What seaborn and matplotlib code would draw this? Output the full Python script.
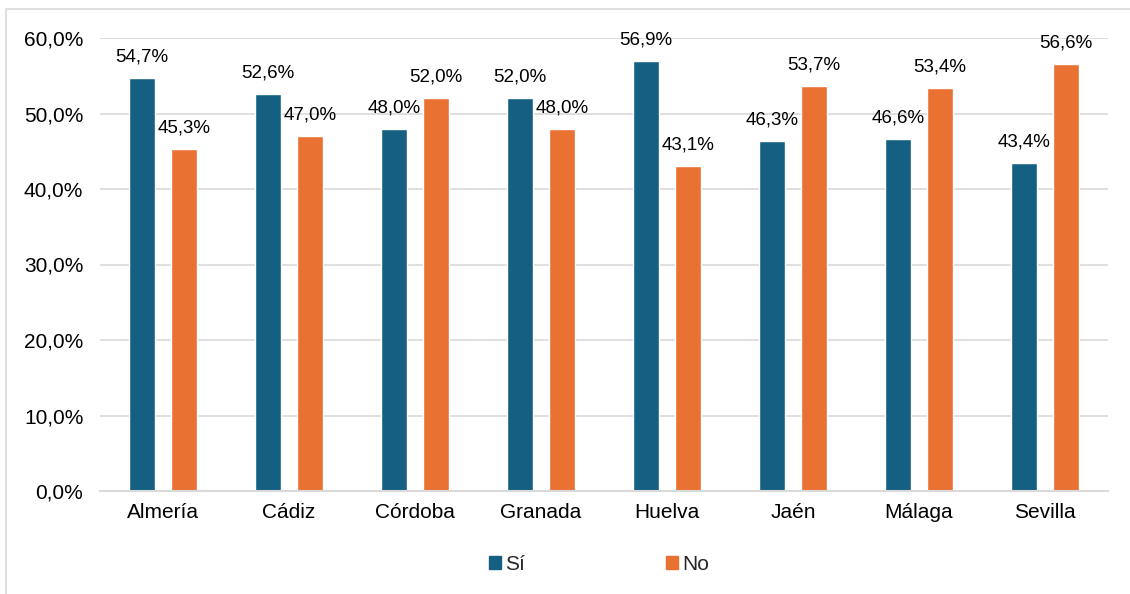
import matplotlib
matplotlib.use("Agg")
import matplotlib.pyplot as plt
import matplotlib.patches as mpatches
import seaborn as sns
import pandas as pd

# Data
provincias = ["Almería", "Cádiz", "Córdoba", "Granada", "Huelva", "Jaén", "Málaga", "Sevilla"]
si_vals = [54.7, 52.6, 48.0, 52.0, 56.9, 46.3, 46.6, 43.4]
no_vals = [45.3, 47.0, 52.0, 48.0, 43.1, 53.7, 53.4, 56.6]
series = ["Sí", "No"]

df = pd.DataFrame({
    "Provincia": provincias * 2,
    "Respuesta": [series[0]] * len(provincias) + [series[1]] * len(provincias),
    "Porcentaje": si_vals + no_vals,
})

sns.set_theme(style="white")
plt.rcParams["font.family"] = ["Liberation Sans", "DejaVu Sans"]

colors = {"Sí": "#156082", "No": "#E97132"}

fig = plt.figure(figsize=(11.3, 5.94), dpi=100)
ax = fig.add_axes([100 / 1130, 103 / 594, 1008 / 1130, 453 / 594])

# Chart frame (light gray), partially cut off like the reference
fig.patches.append(mpatches.Rectangle((5.5 / 1130, -0.1), 1.2, (594 - 9.5) / 594 + 0.1,
                                      transform=fig.transFigure, fill=False,
                                      edgecolor="#d9d9d9", linewidth=1.2))

sns.barplot(data=df, x="Provincia", y="Porcentaje", hue="Respuesta",
            palette=colors, width=0.667, gap=0.38, ax=ax, legend=False,
            saturation=1, order=provincias, hue_order=series)

for cont in ax.containers:
    for bar in cont:
        h = bar.get_height()
        ax.annotate(f"{h:.1f}%".replace(".", ","),
                    (bar.get_x() + bar.get_width() / 2, h),
                    xytext=(0, 9), textcoords="offset points",
                    ha="center", va="bottom", fontsize=13.5, color="#000000")

ax.set_ylim(0, 60)
ax.set_xlim(-0.5, 7.5)
ax.set_yticks(range(0, 61, 10))
ax.set_yticklabels([f"{v},0%" for v in range(0, 61, 10)])
ax.yaxis.grid(True, color="#d9d9d9", linewidth=1.2)
ax.set_axisbelow(True)
for s in ["top", "right", "left"]:
    ax.spines[s].set_visible(False)
ax.spines["bottom"].set_color("#d9d9d9")
ax.spines["bottom"].set_linewidth(1.5)
ax.tick_params(axis="both", length=0, labelsize=15, colors="#000000")
ax.tick_params(axis="x", pad=9)
ax.tick_params(axis="y", pad=12)
ax.set_xlabel("")
ax.set_ylabel("")

handles = [mpatches.Patch(color=colors[s], label=s) for s in series]
fig.legend(handles=handles, loc="center", bbox_to_anchor=(0.530, 0.05), ncol=2,
           frameon=False, fontsize=15, handlelength=0.55, handleheight=0.55,
           handletextpad=0.2, columnspacing=6.8)

fig.savefig("out.png", dpi=100)
